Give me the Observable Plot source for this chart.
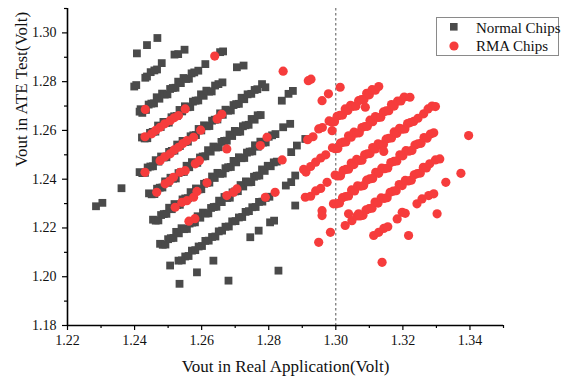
<!DOCTYPE html>
<html><head><meta charset="utf-8">
<script src="https://cdn.jsdelivr.net/npm/d3@7"></script>
<script src="https://cdn.jsdelivr.net/npm/@observablehq/plot@0.6"></script>
<style>
body{margin:0;background:#fff;}
#wrap{position:relative;width:568px;height:379px;font-family:"Liberation Serif","Times New Roman",serif;}
#legend{position:absolute;left:0;top:0;}
</style></head><body><div id="wrap"></div>
<script>
// ---- Normal Chips (gray squares), grouped by diagonal band ----
const normalBand0 = [[1.2407,1.2916],[1.2437,1.2950],[1.2468,1.2979]];
const normalBand1 = [[1.2399,1.2780],[1.2405,1.2786],[1.2432,1.2816],[1.2437,1.2821],[1.2448,1.2839],[1.2459,1.2846],[1.2467,1.2850],[1.2481,1.2876],[1.2519,1.2911],[1.2530,1.2913],[1.2549,1.2931]];
const normalBand2 = [[1.2415,1.2677],[1.2423,1.2672],[1.2418,1.2687],[1.2426,1.2683],[1.2434,1.2684],[1.2442,1.2706],[1.2450,1.2710],[1.2458,1.2711],[1.2466,1.2736],[1.2474,1.2730],[1.2482,1.2751],[1.2490,1.2747],[1.2498,1.2748],[1.2506,1.2770],[1.2514,1.2774],[1.2522,1.2775],[1.2530,1.2800],[1.2538,1.2794],[1.2546,1.2815],[1.2554,1.2811],[1.2562,1.2812],[1.2570,1.2834],[1.2578,1.2838],[1.2590,1.2845],[1.2611,1.2872],[1.2655,1.2921],[1.2664,1.2924]];
const normalBand3 = [[1.2422,1.2571],[1.2430,1.2567],[1.2438,1.2568],[1.2446,1.2590],[1.2454,1.2594],[1.2462,1.2595],[1.2470,1.2620],[1.2478,1.2614],[1.2486,1.2635],[1.2494,1.2631],[1.2502,1.2632],[1.2510,1.2654],[1.2518,1.2658],[1.2526,1.2659],[1.2534,1.2684],[1.2542,1.2678],[1.2550,1.2699],[1.2558,1.2695],[1.2566,1.2696],[1.2574,1.2718],[1.2582,1.2722],[1.2590,1.2723],[1.2598,1.2748],[1.2606,1.2742],[1.2614,1.2763],[1.2622,1.2759],[1.2630,1.2760],[1.2640,1.2784],[1.2650,1.2790],[1.2662,1.2797],[1.2705,1.2859],[1.2725,1.2866]];
const normalBand4 = [[1.2285,1.2289],[1.2304,1.2303],[1.2361,1.2363],[1.2415,1.2429],[1.2423,1.2425],[1.2431,1.2426],[1.2439,1.2448],[1.2447,1.2452],[1.2455,1.2453],[1.2463,1.2478],[1.2471,1.2472],[1.2479,1.2493],[1.2487,1.2489],[1.2495,1.2490],[1.2503,1.2512],[1.2511,1.2516],[1.2519,1.2517],[1.2527,1.2542],[1.2535,1.2536],[1.2543,1.2557],[1.2551,1.2553],[1.2559,1.2554],[1.2567,1.2576],[1.2575,1.2580],[1.2583,1.2581],[1.2591,1.2606],[1.2599,1.2600],[1.2607,1.2621],[1.2615,1.2617],[1.2623,1.2618],[1.2631,1.2640],[1.2639,1.2644],[1.2647,1.2645],[1.2655,1.2670],[1.2663,1.2664],[1.2671,1.2685],[1.2679,1.2681],[1.2687,1.2682],[1.2695,1.2704],[1.2703,1.2708],[1.2711,1.2709],[1.2719,1.2734],[1.2727,1.2728],[1.2737,1.2748],[1.2748,1.2750],[1.2758,1.2766],[1.2766,1.2769],[1.2780,1.2790],[1.2790,1.2777]];
const normalBand5 = [[1.2443,1.2342],[1.2451,1.2338],[1.2459,1.2339],[1.2467,1.2361],[1.2475,1.2365],[1.2483,1.2366],[1.2491,1.2391],[1.2499,1.2385],[1.2507,1.2406],[1.2515,1.2402],[1.2523,1.2403],[1.2531,1.2425],[1.2539,1.2429],[1.2547,1.2430],[1.2555,1.2455],[1.2563,1.2449],[1.2571,1.2470],[1.2579,1.2466],[1.2587,1.2467],[1.2595,1.2489],[1.2603,1.2493],[1.2611,1.2494],[1.2619,1.2519],[1.2627,1.2513],[1.2635,1.2534],[1.2643,1.2530],[1.2651,1.2531],[1.2659,1.2553],[1.2667,1.2557],[1.2675,1.2558],[1.2683,1.2583],[1.2691,1.2577],[1.2699,1.2598],[1.2707,1.2594],[1.2715,1.2595],[1.2723,1.2617],[1.2731,1.2621],[1.2740,1.2623],[1.2749,1.2647],[1.2758,1.2644],[1.2767,1.2662],[1.2776,1.2663],[1.2839,1.2722],[1.2859,1.2750],[1.2872,1.2762]];
const normalBand6 = [[1.2455,1.2234],[1.2463,1.2230],[1.2471,1.2231],[1.2479,1.2253],[1.2487,1.2257],[1.2495,1.2258],[1.2503,1.2283],[1.2511,1.2277],[1.2519,1.2298],[1.2527,1.2294],[1.2535,1.2295],[1.2543,1.2317],[1.2551,1.2321],[1.2559,1.2322],[1.2567,1.2347],[1.2575,1.2341],[1.2583,1.2362],[1.2591,1.2358],[1.2599,1.2359],[1.2607,1.2381],[1.2615,1.2385],[1.2623,1.2386],[1.2631,1.2411],[1.2639,1.2405],[1.2647,1.2426],[1.2655,1.2422],[1.2663,1.2423],[1.2671,1.2445],[1.2679,1.2449],[1.2687,1.2450],[1.2695,1.2475],[1.2703,1.2469],[1.2711,1.2490],[1.2719,1.2486],[1.2727,1.2487],[1.2735,1.2509],[1.2743,1.2513],[1.2751,1.2514],[1.2759,1.2539],[1.2767,1.2533],[1.2775,1.2554],[1.2783,1.2550],[1.2791,1.2551],[1.2800,1.2574],[1.2810,1.2580],[1.2820,1.2585],[1.2843,1.2613],[1.2864,1.2627]];
const normalBand7 = [[1.2476,1.2135],[1.2484,1.2131],[1.2492,1.2132],[1.2500,1.2154],[1.2508,1.2158],[1.2516,1.2159],[1.2524,1.2184],[1.2532,1.2178],[1.2540,1.2199],[1.2548,1.2195],[1.2556,1.2196],[1.2564,1.2218],[1.2572,1.2222],[1.2580,1.2223],[1.2588,1.2248],[1.2596,1.2242],[1.2604,1.2263],[1.2612,1.2259],[1.2620,1.2260],[1.2628,1.2282],[1.2636,1.2286],[1.2644,1.2287],[1.2652,1.2312],[1.2660,1.2306],[1.2668,1.2327],[1.2676,1.2323],[1.2684,1.2324],[1.2692,1.2346],[1.2700,1.2350],[1.2708,1.2351],[1.2716,1.2376],[1.2724,1.2370],[1.2732,1.2391],[1.2740,1.2387],[1.2748,1.2388],[1.2756,1.2410],[1.2764,1.2414],[1.2772,1.2415],[1.2780,1.2440],[1.2788,1.2434],[1.2797,1.2455],[1.2806,1.2453],[1.2815,1.2469],[1.2824,1.2472],[1.2867,1.2511],[1.2884,1.2538],[1.2909,1.2565]];
const normalBand8 = [[1.2506,1.2046],[1.2531,1.2066],[1.2541,1.2067],[1.2551,1.2083],[1.2561,1.2085],[1.2571,1.2107],[1.2581,1.2109],[1.2591,1.2124],[1.2601,1.2126],[1.2611,1.2147],[1.2621,1.2148],[1.2631,1.2163],[1.2641,1.2165],[1.2651,1.2186],[1.2661,1.2189],[1.2671,1.2205],[1.2681,1.2206],[1.2691,1.2227],[1.2701,1.2228],[1.2711,1.2243],[1.2721,1.2245],[1.2731,1.2266],[1.2741,1.2269],[1.2751,1.2285],[1.2761,1.2286],[1.2771,1.2307],[1.2781,1.2308],[1.2791,1.2323],[1.2802,1.2328],[1.2851,1.2374],[1.2867,1.2388],[1.2879,1.2415]];
const normalBand9 = [[1.2534,1.1971],[1.2586,1.2018],[1.2635,1.2066],[1.2745,1.2162],[1.2770,1.2189],[1.2804,1.2223],[1.2816,1.2230],[1.2879,1.2292]];
const normalScatter = [[1.2680,1.1984],[1.2829,1.2025]];

// ---- RMA Chips (red circles) ----
const rmaLeft = [[1.2432,1.2686],[1.2639,1.2905],
 [1.2431,1.2574],[1.2451,1.2586],[1.2463,1.2600],[1.2476,1.2613],[1.2490,1.2627],[1.2506,1.2640],[1.2518,1.2652],[1.2531,1.2661],[1.2551,1.2688],
 [1.2431,1.2428],[1.2476,1.2476],[1.2490,1.2492],[1.2506,1.2504],[1.2518,1.2520],[1.2531,1.2531],[1.2544,1.2546],[1.2556,1.2558],[1.2576,1.2572],[1.2597,1.2601],[1.2646,1.2647],[1.2660,1.2666],[1.2843,1.2843],
 [1.2466,1.2346],[1.2491,1.2381],[1.2504,1.2392],[1.2516,1.2408],[1.2536,1.2428],[1.2551,1.2435],[1.2581,1.2463],[1.2593,1.2476],[1.2675,1.2524],
 [1.2521,1.2285],[1.2541,1.2305],[1.2556,1.2312],[1.2576,1.2326],[1.2586,1.2350],[1.2616,1.2385],[1.2775,1.2538],[1.2795,1.2572],
 [1.2562,1.2228],[1.2580,1.2238],[1.2675,1.2333],[1.2695,1.2346],[1.2705,1.2360],[1.2840,1.2479],
 [1.2790,1.2326],[1.2819,1.2346]];
const rmaUpper = [[1.2918,1.2804],[1.2926,1.2810],[1.2959,1.2722],[1.2978,1.2750],[1.3013,1.2777]];
const rmaBand1 = [[1.2916,1.2562],[1.2932,1.2574],[1.2949,1.2606],[1.2960,1.2612],[1.2980,1.2639],[1.2988,1.2635],[1.2996,1.2636],[1.3004,1.2658],[1.3012,1.2662],[1.3020,1.2663],[1.3028,1.2688],[1.3036,1.2682],[1.3044,1.2703],[1.3052,1.2699],[1.3060,1.2700],[1.3068,1.2722],[1.3076,1.2726],[1.3084,1.2727],[1.3092,1.2752],[1.3100,1.2746],[1.3108,1.2767],[1.3118,1.2765],[1.3128,1.2780]];
const rmaBand2 = [[1.2904,1.2440],[1.2911,1.2429],[1.2925,1.2452],[1.2940,1.2470],[1.2955,1.2487],[1.2970,1.2500],[1.2990,1.2529],[1.2998,1.2525],[1.3006,1.2526],[1.3014,1.2548],[1.3022,1.2552],[1.3030,1.2553],[1.3038,1.2578],[1.3046,1.2572],[1.3054,1.2593],[1.3062,1.2589],[1.3070,1.2590],[1.3078,1.2612],[1.3086,1.2616],[1.3094,1.2617],[1.3102,1.2642],[1.3110,1.2636],[1.3118,1.2657],[1.3126,1.2653],[1.3134,1.2654],[1.3142,1.2676],[1.3150,1.2680],[1.3158,1.2681],[1.3166,1.2706],[1.3174,1.2700],[1.3184,1.2720],[1.3194,1.2721],[1.3204,1.2737],[1.3221,1.2736]];
const rmaBand3 = [[1.2909,1.2326],[1.2925,1.2330],[1.2940,1.2352],[1.2955,1.2362],[1.2974,1.2387],[1.2998,1.2417],[1.3006,1.2413],[1.3014,1.2414],[1.3022,1.2436],[1.3030,1.2440],[1.3038,1.2441],[1.3046,1.2466],[1.3054,1.2460],[1.3062,1.2481],[1.3070,1.2477],[1.3078,1.2478],[1.3086,1.2500],[1.3094,1.2504],[1.3102,1.2505],[1.3110,1.2530],[1.3118,1.2524],[1.3126,1.2545],[1.3134,1.2541],[1.3142,1.2542],[1.3150,1.2564],[1.3158,1.2568],[1.3166,1.2569],[1.3174,1.2594],[1.3182,1.2588],[1.3190,1.2609],[1.3198,1.2605],[1.3206,1.2606],[1.3214,1.2628],[1.3222,1.2632],[1.3232,1.2637],[1.3245,1.2650],[1.3262,1.2668],[1.3275,1.2688],[1.3287,1.2700],[1.3297,1.2698]];
const rmaBand4 = [[1.2993,1.2299],[1.3002,1.2299],[1.3011,1.2302],[1.3020,1.2324],[1.3029,1.2329],[1.3038,1.2331],[1.3047,1.2356],[1.3056,1.2352],[1.3065,1.2373],[1.3074,1.2371],[1.3083,1.2374],[1.3092,1.2396],[1.3101,1.2401],[1.3110,1.2403],[1.3119,1.2428],[1.3128,1.2424],[1.3137,1.2445],[1.3146,1.2443],[1.3155,1.2446],[1.3164,1.2468],[1.3173,1.2473],[1.3182,1.2475],[1.3191,1.2500],[1.3200,1.2496],[1.3209,1.2517],[1.3218,1.2515],[1.3227,1.2518],[1.3236,1.2540],[1.3245,1.2545],[1.3254,1.2547],[1.3263,1.2571],[1.3272,1.2568],[1.3282,1.2585],[1.3292,1.2590]];
const rmaBand5 = [[1.3028,1.2210],[1.3048,1.2230],[1.3063,1.2249],[1.3072,1.2249],[1.3081,1.2252],[1.3090,1.2274],[1.3099,1.2279],[1.3108,1.2281],[1.3117,1.2306],[1.3126,1.2302],[1.3135,1.2323],[1.3144,1.2321],[1.3153,1.2324],[1.3162,1.2346],[1.3171,1.2351],[1.3180,1.2353],[1.3189,1.2378],[1.3198,1.2374],[1.3207,1.2395],[1.3216,1.2393],[1.3225,1.2396],[1.3234,1.2418],[1.3243,1.2423],[1.3252,1.2425],[1.3261,1.2449],[1.3270,1.2446],[1.3280,1.2463],[1.3297,1.2479],[1.3310,1.2483]];
const rmaBand6 = [[1.3113,1.2169],[1.3128,1.2182],[1.3143,1.2198],[1.3155,1.2205],[1.3242,1.2299],[1.3257,1.2319],[1.3277,1.2333],[1.3292,1.2340]];
const rmaScatter = [[1.2949,1.2141],[1.2984,1.2182],[1.2959,1.2271],[1.2959,1.2251],[1.3038,1.2258],[1.3068,1.2258],[1.3138,1.2059],[1.3183,1.2237],[1.3198,1.2264],[1.3207,1.2260],[1.3217,1.2169],[1.3302,1.2258],[1.3328,1.2387],[1.3373,1.2424],[1.3396,1.2579],[1.2989,1.2599],[1.3088,1.2695],[1.3143,1.2514]];

// ---- axes ----
const xMajorTicks = [1.22,1.24,1.26,1.28,1.30,1.32,1.34];
const xMinorTicks = [1.23,1.25,1.27,1.29,1.31,1.33,1.35];
const yMajorTicks = [1.18,1.20,1.22,1.24,1.26,1.28,1.30];
const yMinorTicks = [1.19,1.21,1.23,1.25,1.27,1.29,1.31];
const xTitle = "Vout in Real Application(Volt)";
const yTitle = "Vout in ATE Test(Volt)";
const seriesNames = ["Normal Chips","RMA Chips"];
const seriesColors = ["#4a4a4a","#f63c3c"];
const refLine = [1.30];

const normal = [].concat(normalBand0,normalBand1,normalBand2,normalBand3,normalBand4,normalBand5,normalBand6,normalBand7,normalBand8,normalBand9,normalScatter);
const rma = [].concat(rmaLeft,rmaUpper,rmaBand1,rmaBand2,rmaBand3,rmaBand4,rmaBand5,rmaBand6,rmaScatter);

const fmt = d3.format(".2f");
const chart = Plot.plot({
  width:568, height:379,
  marginLeft:67, marginRight:65, marginTop:8, marginBottom:54,
  style:{fontFamily:"'Liberation Serif','Times New Roman',serif", fontSize:"14px", color:"#111", background:"#fff", overflow:"visible"},
  x:{domain:[1.22,1.35]},
  y:{domain:[1.18,1.31]},
  marks:[
    Plot.ruleX(refLine,{stroke:"#555", strokeWidth:1, strokeDasharray:"2.5,2.5"}),
    Plot.dot(normal,{x:d=>d[0], y:d=>d[1], symbol:"square", r:4.4, fill:seriesColors[0]}),
    Plot.dot(rma,{x:d=>d[0], y:d=>d[1], symbol:"circle", r:4.6, fill:seriesColors[1]}),
    Plot.axisX(xMajorTicks,{tickSize:5, tickPadding:5, tickFormat:fmt, label:null, stroke:"#000", strokeWidth:1.2}),
    Plot.axisX(xMinorTicks,{tickSize:3, tickFormat:()=>"", label:null, stroke:"#000", strokeWidth:1.2}),
    Plot.axisY(yMajorTicks,{tickSize:5, tickPadding:6, tickFormat:fmt, label:null, stroke:"#000", strokeWidth:1.2}),
    Plot.axisY(yMinorTicks,{tickSize:3, tickFormat:()=>"", label:null, stroke:"#000", strokeWidth:1.2}),
    Plot.ruleY([1.18],{stroke:"#000", strokeWidth:1.6}),
    Plot.ruleX([1.22],{stroke:"#000", strokeWidth:1.6}),
    Plot.text([xTitle],{frameAnchor:"bottom", dy:46, fontSize:17, fill:"#111"}),
    Plot.text([yTitle],{frameAnchor:"left", rotate:-90, dx:-46, fontSize:17, fill:"#111"})
  ]
});
const wrap = document.getElementById("wrap");
wrap.appendChild(chart);

// legend overlay (inside plot area, top-right)
const ns = "http://www.w3.org/2000/svg";
const lg = document.createElementNS(ns,"svg");
lg.setAttribute("id","legend");
lg.setAttribute("width","568"); lg.setAttribute("height","379");
const box = document.createElementNS(ns,"rect");
box.setAttribute("x","436.5"); box.setAttribute("y","17.5"); box.setAttribute("width","122"); box.setAttribute("height","38");
box.setAttribute("fill","#fff"); box.setAttribute("stroke","#8a8a8a"); box.setAttribute("stroke-width","1");
lg.appendChild(box);
const sq = document.createElementNS(ns,"rect");
sq.setAttribute("x","450"); sq.setAttribute("y","23"); sq.setAttribute("width","7.6"); sq.setAttribute("height","7.6"); sq.setAttribute("fill",seriesColors[0]);
lg.appendChild(sq);
const ci = document.createElementNS(ns,"circle");
ci.setAttribute("cx","454"); ci.setAttribute("cy","46"); ci.setAttribute("r","4.6"); ci.setAttribute("fill",seriesColors[1]);
lg.appendChild(ci);
seriesNames.forEach((s,i)=>{
  const t = document.createElementNS(ns,"text");
  t.setAttribute("x","476"); t.setAttribute("y", i===0 ? "32.5" : "51");
  t.setAttribute("font-family","'Liberation Serif','Times New Roman',serif");
  t.setAttribute("font-size","15"); t.setAttribute("fill","#111");
  t.textContent = s;
  lg.appendChild(t);
});
wrap.appendChild(lg);
</script>
</body></html>
